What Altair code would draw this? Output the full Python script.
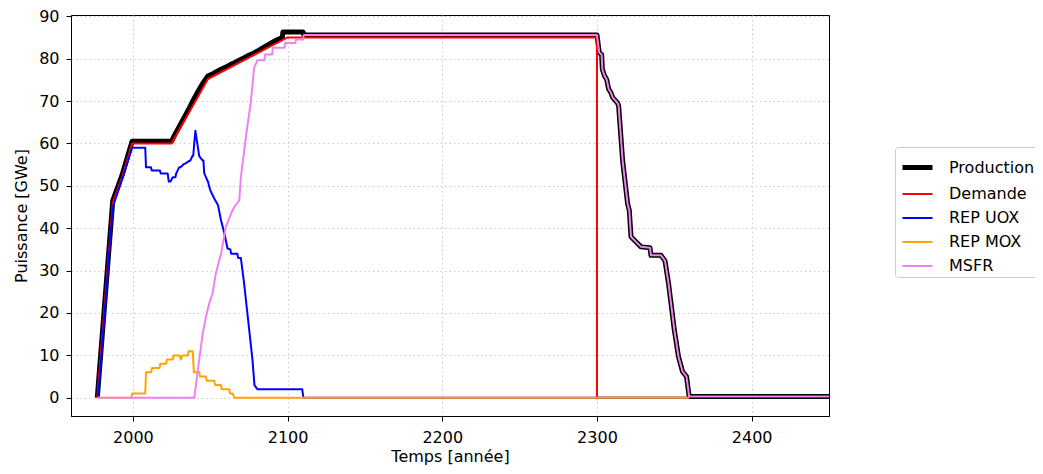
import altair as alt
import pandas as pd

SERIES = ["Production", "Demande", "REP UOX", "REP MOX", "MSFR"]
COLORS = ["#000000", "#ff0000", "#0000ff", "#ffa500", "#ee82ee"]
WIDTHS = [5, 2, 2, 2, 2]

# end-of-life decline (Production and MSFR coincide after 2300)
decl_years = [2300, 2301.5, 2303, 2303.5, 2304.8, 2306.3, 2307.6, 2309, 2310.2, 2313.2,
              2314, 2316.6, 2319.8, 2320.9, 2322, 2325.2, 2328.5, 2334.3, 2334.9, 2341.4,
              2344, 2346.3, 2350, 2352.7, 2355.3, 2357.9, 2359.6, 2450]
decl_vals = [85.6, 81.4, 81, 77.5, 76, 75.1, 72.8, 72, 70.8, 69.6,
             68.9, 55.9, 45.8, 44.2, 38, 36.8, 35.6, 35.4, 33.6, 33.6,
             32.3, 26.9, 16, 9.7, 6.2, 5, 0.3, 0.3]

prod_years = [1977, 1987, 1993, 1999.5, 2025, 2027, 2030, 2033, 2036, 2039, 2042, 2045,
              2048.5, 2051, 2054, 2057, 2060, 2063, 2066, 2069, 2072, 2075, 2078, 2081,
              2083.7, 2087, 2090, 2093, 2096.6, 2097, 2110, 2110.5] + decl_years
prod_vals = [0, 46.5, 52.5, 60.5, 60.5, 62, 64, 66, 68, 70.2, 72.2, 74.1,
             75.9, 76.3, 76.9, 77.5, 78, 78.6, 79.1, 79.7, 80.2, 80.8, 81.3, 81.9,
             82.5, 83.2, 83.8, 84.4, 85, 86.3, 86.3, 85.6] + decl_vals

dem_years = [1977, 1987, 1993, 1999.5, 2025, 2048.5, 2100, 2300, 2300, 2359.5]
dem_vals = [0, 46, 52, 60, 60, 75.2, 85, 85, 0, 0]

uox_years = [1977.5, 1987, 1993, 1999.5, 2008, 2008.5, 2011.7, 2012.2, 2017.5, 2018, 2022.5,
             2023.2, 2024.3, 2025.8, 2027.5, 2028, 2030, 2030.8, 2033.2, 2033.7, 2036.5, 2037,
             2038.6, 2039, 2040.4, 2042.9, 2045, 2045.6, 2046.1, 2048.5, 2050, 2052.6, 2055,
             2056.9, 2059, 2061.2, 2063, 2063.5, 2067.5, 2068, 2069.8, 2071.9, 2074, 2075.2,
             2077.3, 2078.6, 2080.5, 2109.5, 2110.2, 2359.5]
uox_vals = [0, 45, 51.5, 59, 59, 54.4, 54.4, 53.6, 53.6, 52.9, 52.9,
            51, 51, 52, 52, 52.9, 54.4, 54.4, 55.2, 55.2, 55.9, 55.9,
            57.1, 57.1, 63, 57, 56, 56, 53, 51, 49, 47, 45.5,
            42, 39, 35.2, 35, 34, 34, 33, 33, 27, 20, 16,
            9, 3, 2, 2, 0, 0]

mox_years = [1977, 1999, 1999.5, 2008, 2008.5, 2011.8, 2012.3, 2017.2, 2017.7, 2021.5, 2022,
             2025.8, 2026.3, 2030.1, 2031, 2032, 2033, 2035.5, 2036, 2038.7, 2039.4, 2042.9,
             2043.4, 2047.2, 2047.7, 2052.6, 2053.1, 2056.9, 2057.4, 2062.3, 2062.8, 2064.5,
             2065.5, 2359.5]
mox_vals = [0, 0, 1, 1, 6, 6, 7, 7, 8, 8, 9,
            9, 10, 10, 9, 10, 10, 10, 11, 11, 6, 6,
            5, 5, 4, 4, 3, 3, 2, 2, 1, 1,
            0, 0]

msfr_years = [1977, 2039.7, 2042, 2045, 2047.2, 2049.3, 2051.5, 2053.6, 2057, 2060.1, 2063.4,
              2065.5, 2068.8, 2069.8, 2073, 2076.3, 2078.4, 2080.5, 2085, 2085.5, 2090, 2090.5,
              2098, 2098.5, 2105, 2105.5, 2110, 2110.5] + decl_years
msfr_vals = [0, 0, 6.6, 14.8, 19.1, 22.2, 24.6, 29.3, 34, 40.3, 43.4,
             45, 46.6, 52, 61.4, 70, 77.9, 79.6, 79.6, 81, 81, 82.6,
             82.6, 83.7, 83.7, 84.5, 84.5, 85.6] + decl_vals

rows = []
for name, ys, vs in [("Production", prod_years, prod_vals), ("Demande", dem_years, dem_vals),
                     ("REP UOX", uox_years, uox_vals), ("REP MOX", mox_years, mox_vals),
                     ("MSFR", msfr_years, msfr_vals)]:
    for i, (y, v) in enumerate(zip(ys, vs)):
        rows.append({"series": name, "year": y, "value": v, "idx": i})
df = pd.DataFrame(rows)

FONT = "DejaVu Sans"

x = alt.X("year:Q", scale=alt.Scale(domain=[1960, 2450], nice=False, zero=False),
          axis=alt.Axis(values=[2000, 2100, 2200, 2300, 2400], format="d", title="Temps [année]",
                        labelPadding=8, titlePadding=3))
y = alt.Y("value:Q", scale=alt.Scale(domain=[-4.3, 90.3], nice=False, zero=False),
          axis=alt.Axis(values=list(range(0, 91, 10)), title="Puissance [GWe]",
                        labelPadding=7, titlePadding=9))

legend_kw = dict(title=None, orient="none", legendX=824, legendY=132,
                 symbolType="stroke", symbolSize=900, rowPadding=-7, symbolOffset=2,
                 labelOffset=14, labelFontSize=16, labelFont=FONT, labelColor="black",
                 labelLimit=300, padding=3, strokeColor="#cccccc",
                 fillColor="white", cornerRadius=3)
color = alt.Color("series:N", scale=alt.Scale(domain=SERIES, range=COLORS),
                  legend=alt.Legend(**legend_kw))
sw = alt.StrokeWidth("series:N", scale=alt.Scale(type="ordinal", domain=SERIES, range=WIDTHS),
                     legend=alt.Legend(**legend_kw))

layers = []
for s in SERIES:
    layers.append(
        alt.Chart(df).transform_filter(alt.datum.series == s)
        .mark_line(clip=True, strokeJoin="round", strokeCap="butt")
        .encode(x=x, y=y, color=color, strokeWidth=sw, order=alt.Order("idx:Q"))
    )

chart = alt.layer(*layers).properties(
    width=758, height=401,
    autosize=alt.AutoSizeParams(type="none"),
    padding={"left": 63, "top": 7, "right": 206, "bottom": 50},
).configure(font=FONT).configure_view(
    stroke="black", strokeWidth=1
).configure_axis(
    labelFont=FONT, titleFont=FONT, labelFontSize=16, titleFontSize=16,
    labelColor="black", titleColor="black", titleFontWeight="normal",
    domainColor="black", domainWidth=1, tickColor="black", tickSize=5, tickWidth=1,
    grid=True, gridColor="#cccccc", gridDash=[1.5, 3], gridWidth=1,
)

chart.save("out.html", embed_options={"renderer": "svg", "actions": False})
